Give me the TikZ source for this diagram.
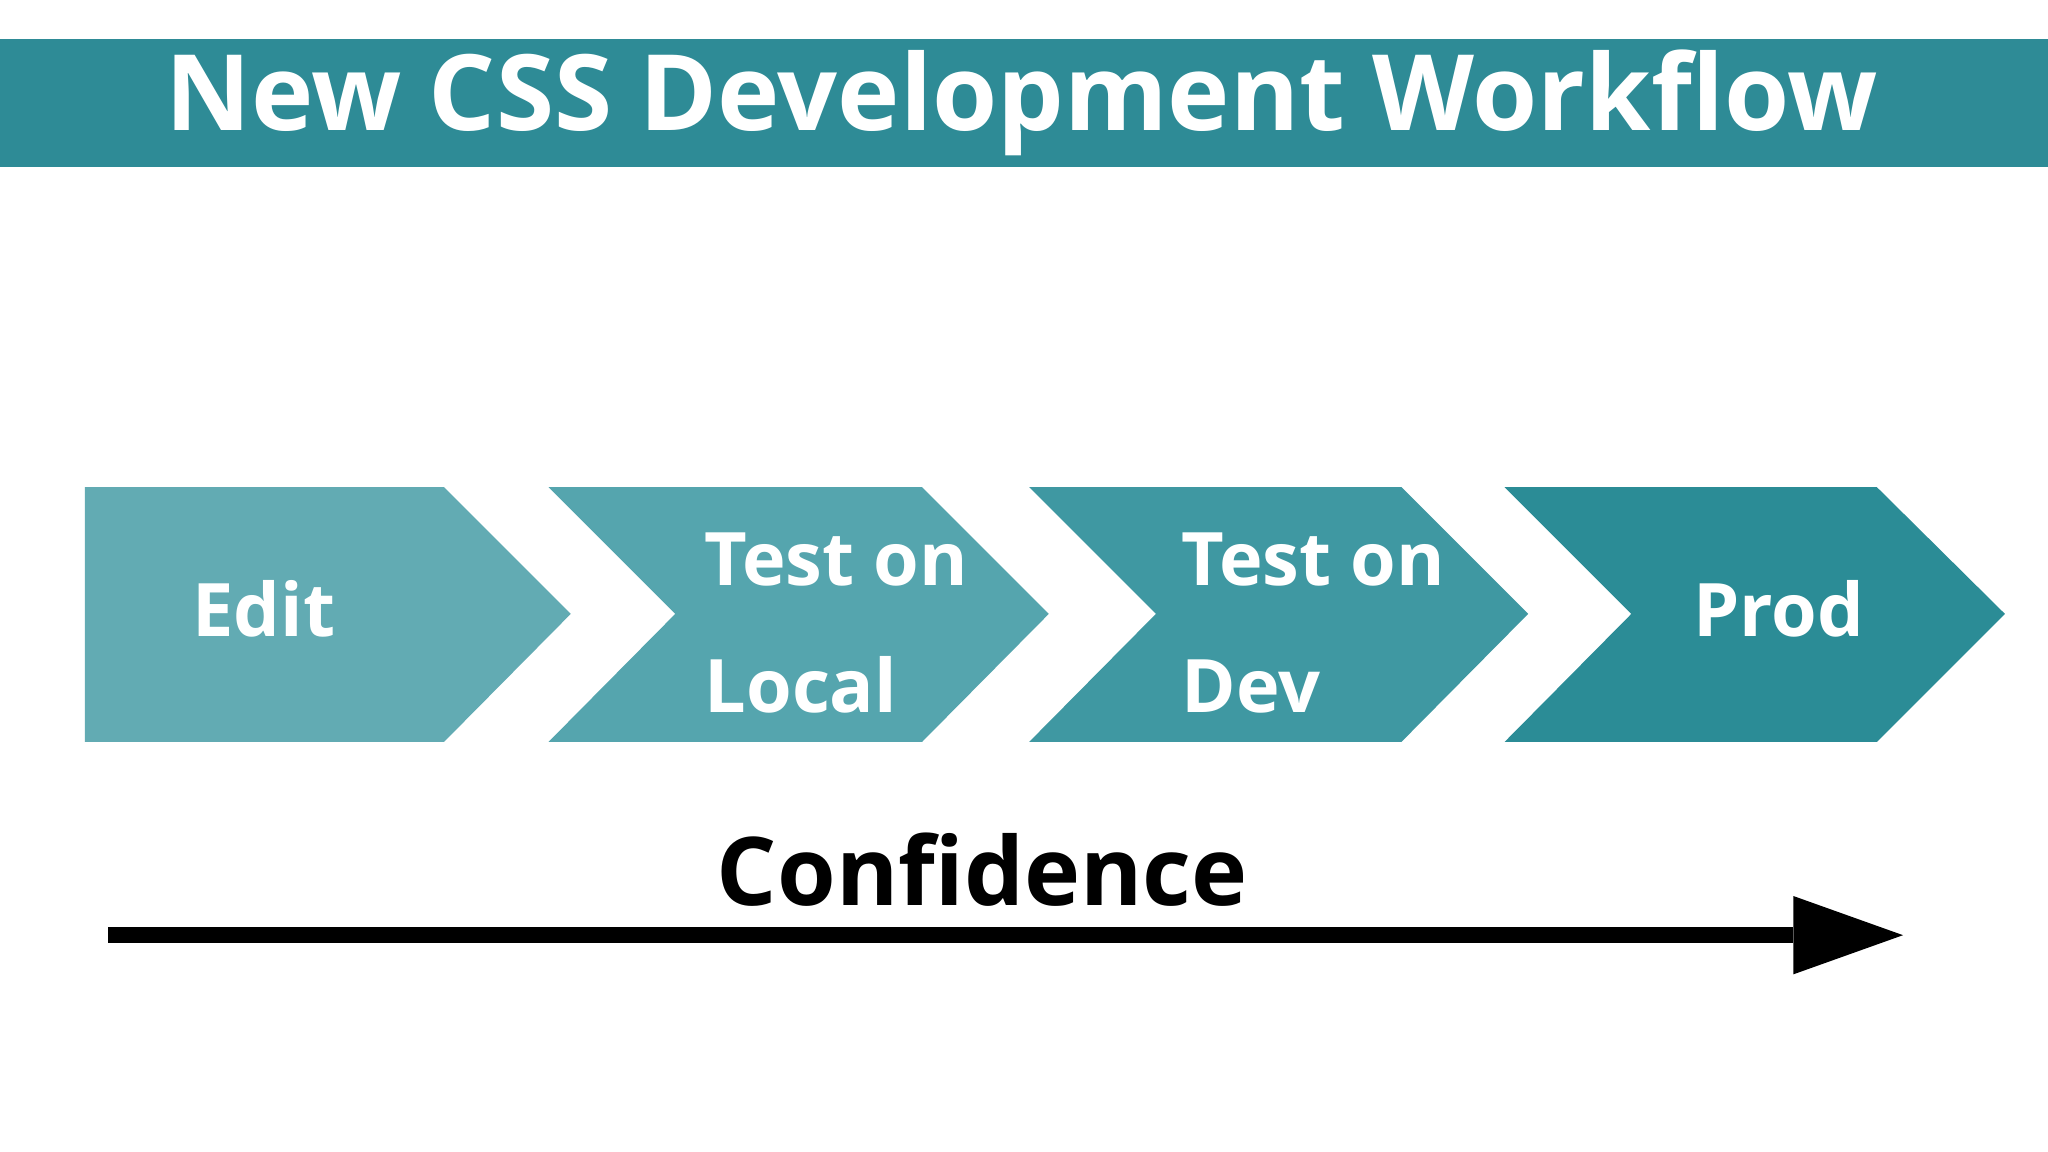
\documentclass[tikz,border=0pt]{standalone}
\usepackage{fontspec}
\setmainfont{Open Sans}
\definecolor{cA}{HTML}{62ABB3}
\definecolor{cB}{HTML}{55A5AE}
\definecolor{cC}{HTML}{3F98A2}
\definecolor{cD}{HTML}{2B8C96}
\definecolor{bar}{HTML}{2E8B96}
\begin{document}
\begin{tikzpicture}[x=0.013061cm,y=-0.013061cm,
  lbl/.style={text=white,font=\bfseries\fontsize{21}{36}\selectfont,align=left,anchor=west}]
\useasboundingbox (0,0) rectangle (1568,882);
\fill[white] (0,0) rectangle (1568,882);
\fill[bar] (0,30) rectangle (1568,128);
\node[text=white,font=\bfseries\fontsize{30}{36}\selectfont] (title) at (782,79) {New CSS Development Workflow};
\fill[cA] (65,373) -- (340,373) -- (437,470) -- (340,568) -- (65,568) -- cycle;
\fill[cB] (420,373) -- (706,373) -- (803,470) -- (706,568) -- (420,568) -- (517,470) -- cycle;
\fill[cC] (788,373) -- (1073,373) -- (1170,470) -- (1073,568) -- (788,568) -- (885,470) -- cycle;
\fill[cD] (1152,373) -- (1437,373) -- (1535,470) -- (1437,568) -- (1152,568) -- (1249,470) -- cycle;
\node[lbl] (edit) at (138,466) {Edit};
\node[lbl] (local) at (530,477) {Test on\\Local};
\node[lbl] (dev) at (895,477) {Test on\\Dev};
\node[lbl] (prod) at (1287,466) {Prod};
\node[font=\bfseries\fontsize{27}{32}\selectfont] (conf) at (752,666) {Confidence};
\coordinate (s) at (83,716);
\coordinate (h) at (1373,716);
\draw[line width=12*0.013061cm] (s) -- (h);
\fill (1373,686) -- (1457,716) -- (1373,746) -- cycle;
\end{tikzpicture}
\end{document}
